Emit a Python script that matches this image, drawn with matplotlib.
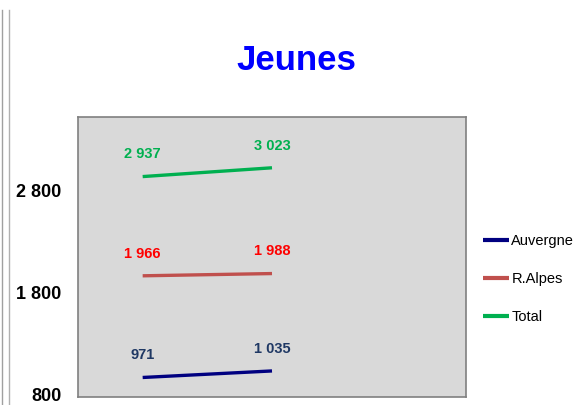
import matplotlib.pyplot as plt
from matplotlib.lines import Line2D

# Data
years = [0, 1]
series_names = ["Auvergne", "R.Alpes", "Total"]
auvergne = [971, 1035]
ralpes = [1966, 1988]
total = [2937, 3023]
ytick_values = [800, 1800, 2800]
ytick_labels = ["800", "1 800", "2 800"]

line_colors = ["#000080", "#c0504d", "#00b050"]
label_colors = ["#1f3864", "#ff0000", "#00b050"]

font = "Liberation Sans"

fig = plt.figure(figsize=(5.75, 4.05), dpi=100)
ax = fig.add_axes([78 / 575, 8 / 405, 388 / 575, 280 / 405])
ax.set_facecolor("#d9d9d9")
for s in ax.spines.values():
    s.set_color("#808080")
    s.set_linewidth(1.2)

values = [auvergne, ralpes, total]
for name, vals, lc, tc in zip(series_names, values, line_colors, label_colors):
    ax.plot(years, vals, color=lc, lw=2.4, label=name, solid_capstyle="butt")
    for x, v in zip(years, vals):
        txt = f"{v:,}".replace(",", " ")
        ax.annotate(txt, (x, v), xytext=(0, 11), textcoords="offset points",
                    ha="center", va="bottom", color=tc, fontsize=10.5,
                    fontweight="bold", family=font)

ax.set_xlim(-0.5, 2.5)
ax.set_ylim(780, 3520)
ax.set_xticks([])
ax.set_yticks(ytick_values)
ax.set_yticklabels(ytick_labels, fontsize=13, fontweight="bold", family=font)
ax.tick_params(axis="y", length=0, pad=12)

fig.text(296 / 575, 1 - 60 / 405, "Jeunes", ha="center", va="center",
         color="#0000ff", fontsize=25, fontweight="bold", family=font)

leg = fig.legend(loc="center left", bbox_to_anchor=(483 / 575, 1 - 279 / 405),
                 frameon=False, borderpad=0, borderaxespad=0,
                 handlelength=1.8, handletextpad=0.15, labelspacing=1.65,
                 prop={"family": font, "size": 10.5})
for h in leg.legend_handles:
    h.set_linewidth(3)

# page edge lines on the left
fig.add_artist(Line2D([2 / 575, 2 / 575], [0, 1 - 10 / 405], color="#a0a0a0", lw=1))
fig.add_artist(Line2D([9 / 575, 9 / 575], [0, 1 - 10 / 405], color="#b0b0b0", lw=1))

fig.savefig("out.png", dpi=100)
